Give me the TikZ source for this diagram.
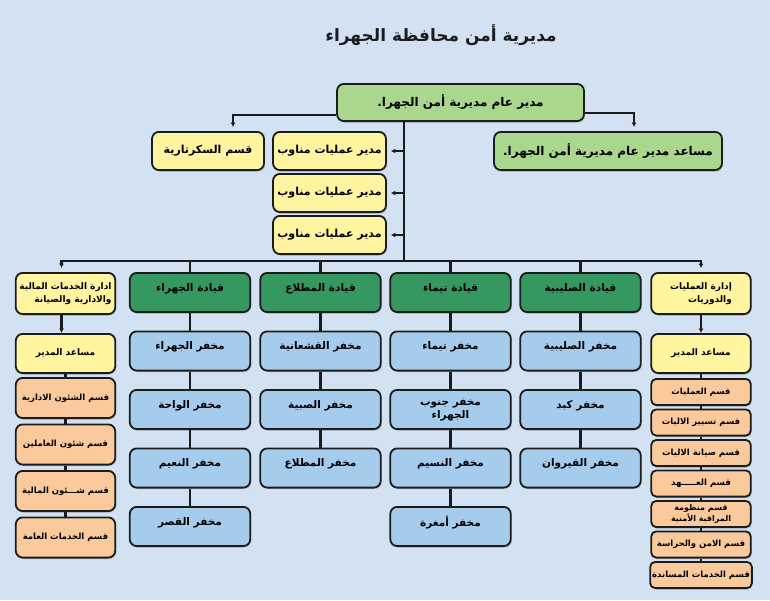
\documentclass[tikz,border=0pt]{standalone}
\usepackage{fontspec}
\usepackage{xcolor}
\usepackage{tikz}
\usetikzlibrary{positioning,arrows.meta,shadows}
\TeXXeTstate=1
\newfontfamily\arabicfont[Script=Arabic]{DejaVu Sans}
\newcommand{\ar}[1]{{\arabicfont\bfseries\beginR #1\endR}}
\definecolor{JahraSky}{RGB}{210,226,243}
\definecolor{JahraLightGreen}{RGB}{170,214,142}
\definecolor{JahraDarkGreen}{RGB}{52,152,96}
\definecolor{JahraYellow}{RGB}{255,244,160}
\definecolor{JahraBlue}{RGB}{165,203,237}
\definecolor{JahraOrange}{RGB}{250,202,156}
\definecolor{JahraInk}{RGB}{28,28,28}

\begin{document}
\begin{tikzpicture}[x=1pt, y=-1pt, node distance=17.5pt,
    box/.style={draw=JahraInk, line width=1.8pt, rounded corners=7pt, inner sep=2pt, align=center,
        font=\fontsize{10}{13}\selectfont, drop shadow={opacity=0.3, shadow xshift=1.2pt, shadow yshift=-1.5pt}},
    lightbox/.style={box, fill=JahraLightGreen, minimum height=38.2pt, font=\fontsize{12}{14}\selectfont},
    yellowbox/.style={box, fill=JahraYellow, minimum width=113pt, minimum height=38.2pt, font=\fontsize{11}{13}\selectfont},
    cmdbox/.style={box, fill=JahraDarkGreen, minimum width=120.5pt, minimum height=39.2pt, text depth=9pt, font=\fontsize{10.5}{13}\selectfont},
    postbox/.style={box, fill=JahraBlue, minimum width=120.5pt, minimum height=39.2pt, text depth=10pt, font=\fontsize{10.5}{13}\selectfont},
    deptbox/.style={box, fill=JahraYellow, minimum width=99.5pt, minimum height=41.2pt, font=\fontsize{9}{13}\selectfont},
    secbox/.style={box, fill=JahraOrange, minimum width=99.5pt, minimum height=40.2pt, font=\fontsize{8.5}{12}\selectfont},
    smallsec/.style={secbox, minimum height=26.2pt, rounded corners=5pt, font=\fontsize{8.5}{10}\selectfont},
    link/.style={draw=JahraInk, line width=2.4pt},
    arrow/.style={-{Latex[length=4.5pt, width=5pt]}, shorten >=4pt}]
    \fill[JahraSky] (0,0) rectangle (770,600);
    \useasboundingbox (0,0) rectangle (770,600);

    \node (Title) at (441,35) [text=JahraInk, font=\fontsize{17}{20}\selectfont] {\ar{مديرية أمن محافظة الجهراء}};

    \node (Director) at (460.5,102.5) [lightbox, minimum width=247pt, minimum height=37.2pt] {\ar{مدير عام مديرية أمن الجهرا.}};
    \node (Secretary) at (208,151) [yellowbox, minimum width=112pt] {\ar{قسم السكرتارية}};
    \node (ShiftOps1) at (329.5,151) [yellowbox] {\ar{مدير عمليات مناوب}};
    \node (ShiftOps2) [yellowbox, below=2pt of ShiftOps1] {\ar{مدير عمليات مناوب}};
    \node (ShiftOps3) [yellowbox, below=2pt of ShiftOps2] {\ar{مدير عمليات مناوب}};
    \node (Assistant) at (608,151) [lightbox, minimum width=228pt] {\ar{مساعد مدير عام مديرية أمن الجهرا.}};
    \coordinate (Bus) at (404,261);

    \node (FinanceDept) at (65.5,293.5) [deptbox, align=right] {\ar{ادارة الخدمات المالية}\\\ar{والادارية والصيانة}};
    \node (FinanceAssistant) [deptbox, minimum height=39.2pt, below=18pt of FinanceDept] {\ar{مساعد المدير}};
    \node (FinanceSec1) [secbox, below=3pt of FinanceAssistant] {\ar{قسم الشئون الادارية}};
    \node (FinanceSec2) [secbox, below=4.5pt of FinanceSec1] {\ar{قسم شئون العاملين}};
    \node (FinanceSec3) [secbox, below=4.5pt of FinanceSec2] {\ar{قسم شـــئون المالية}};
    \node (FinanceSec4) [secbox, below=4.5pt of FinanceSec3] {\ar{قسم الخدمات العامة}};

    \node (JahraCmd) at (190,292.5) [cmdbox] {\ar{قيادة الجهراء}};
    \node (JahraPost1) [postbox, below=of JahraCmd] {\ar{مخفر الجهراء}};
    \node (JahraPost2) [postbox, below=of JahraPost1] {\ar{مخفر الواحة}};
    \node (JahraPost3) [postbox, below=of JahraPost2] {\ar{مخفر النعيم}};
    \node (JahraPost4) [postbox, below=of JahraPost3] {\ar{مخفر القصر}};

    \node (MutlaCmd) at (320.5,292.5) [cmdbox] {\ar{قيادة المطلاع}};
    \node (MutlaPost1) [postbox, below=of MutlaCmd] {\ar{مخفر القشعانية}};
    \node (MutlaPost2) [postbox, below=of MutlaPost1] {\ar{مخفر الصبية}};
    \node (MutlaPost3) [postbox, below=of MutlaPost2] {\ar{مخفر المطلاع}};

    \node (TaimaCmd) at (450.5,292.5) [cmdbox] {\ar{قيادة تيماء}};
    \node (TaimaPost1) [postbox, below=of TaimaCmd] {\ar{مخفر تيماء}};
    \node (TaimaPost2) [postbox, text depth=, below=of TaimaPost1] {\ar{مخفر جنوب}\\\ar{الجهراء}};
    \node (TaimaPost3) [postbox, below=of TaimaPost2] {\ar{مخفر النسيم}};
    \node (TaimaPost4) [postbox, below=of TaimaPost3] {\ar{مخفر أمغرة}};

    \node (SulaibiyaCmd) at (580.5,292.5) [cmdbox] {\ar{قيادة الصليبية}};
    \node (SulaibiyaPost1) [postbox, below=of SulaibiyaCmd] {\ar{مخفر الصليبية}};
    \node (SulaibiyaPost2) [postbox, below=of SulaibiyaPost1] {\ar{مخفر كبد}};
    \node (SulaibiyaPost3) [postbox, below=of SulaibiyaPost2] {\ar{مخفر القيروان}};

    \node (OpsDept) at (701,293.5) [deptbox, align=right] {\ar{إدارة العمليات}\\\ar{والدوريات}};
    \node (OpsAssistant) [deptbox, minimum height=39.2pt, below=18pt of OpsDept] {\ar{مساعد المدير}};
    \node (OpsSec1) [smallsec, below=4pt of OpsAssistant] {\ar{قسم العمليات}};
    \node (OpsSec2) [smallsec, below=2.5pt of OpsSec1] {\ar{قسم تسيير الاليات}};
    \node (OpsSec3) [smallsec, below=2.5pt of OpsSec2] {\ar{قسم صيانة الاليات}};
    \node (OpsSec4) [smallsec, below=2.5pt of OpsSec3] {\ar{قسم العـــــهد}};
    \node (OpsSec5) [smallsec, below=2.5pt of OpsSec4, font=\fontsize{8}{9.5}\selectfont] {\ar{قسم منظومة}\\\ar{المراقبة الأمنية}};
    \node (OpsSec6) [smallsec, below=2.5pt of OpsSec5] {\ar{قسم الامن والحراسة}};
    \node (OpsSec7) [smallsec, below=2.5pt of OpsSec6] {\ar{قسم الخدمات المساندة}};

    \draw[link, arrow] ([yshift=-12.5pt]Director.west) -| ([xshift=25pt]Secretary.north);
    \draw[link, arrow] ([yshift=-10.5pt]Director.east) -| ([xshift=26pt]Assistant.north);
    \draw[link] (Director.south -| Bus) -- (Bus);
    \foreach \s in {ShiftOps1, ShiftOps2, ShiftOps3}
        \draw[link, arrow] (\s.east -| Bus) -- (\s.east);
    \draw[link, arrow] (Bus) -| ([xshift=-4pt]FinanceDept.north);
    \draw[link, arrow] (Bus) -| (OpsDept.north);
    \foreach \c in {JahraCmd, MutlaCmd, TaimaCmd, SulaibiyaCmd}
        \draw[link] (Bus -| \c.north) -- (\c.north);
    \draw[link] (JahraCmd) -- (JahraPost1) -- (JahraPost2) -- (JahraPost3) -- (JahraPost4);
    \draw[link] (MutlaCmd) -- (MutlaPost1) -- (MutlaPost2) -- (MutlaPost3);
    \draw[link] (TaimaCmd) -- (TaimaPost1) -- (TaimaPost2) -- (TaimaPost3) -- (TaimaPost4);
    \draw[link] (SulaibiyaCmd) -- (SulaibiyaPost1) -- (SulaibiyaPost2) -- (SulaibiyaPost3);
    \draw[link, arrow, shorten >=0pt] ([xshift=-4pt]FinanceDept.south) -- ([xshift=-4pt]FinanceAssistant.north);
    \draw[link] (FinanceAssistant) -- (FinanceSec1) -- (FinanceSec2) -- (FinanceSec3) -- (FinanceSec4);
    \draw[link, arrow, shorten >=0pt] (OpsDept) -- (OpsAssistant);
    \draw[link] (OpsAssistant) -- (OpsSec1) -- (OpsSec2) -- (OpsSec3) -- (OpsSec4) -- (OpsSec5) -- (OpsSec6) -- (OpsSec7);
\end{tikzpicture}
\end{document}
